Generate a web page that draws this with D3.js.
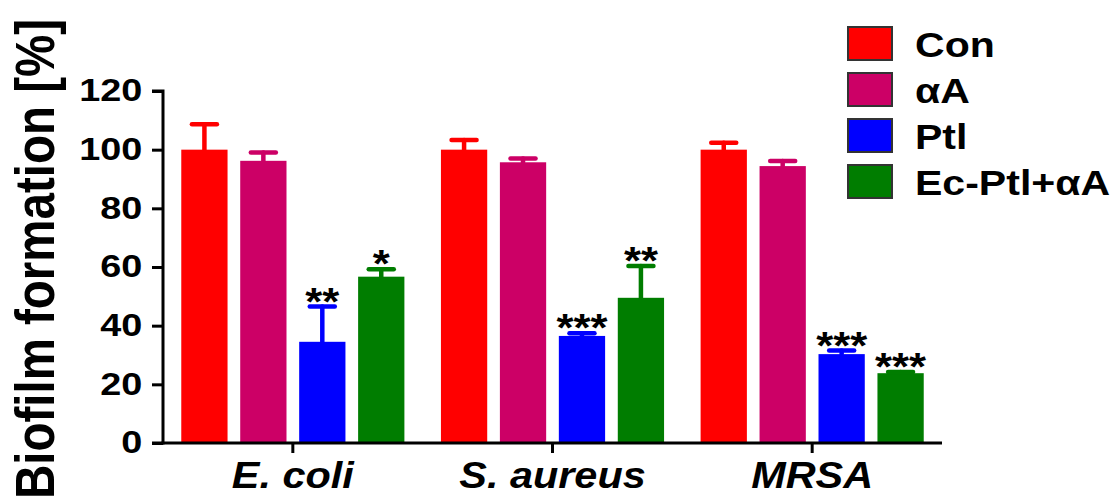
<!DOCTYPE html>
<html>
<head>
<meta charset="utf-8">
<script src="https://cdn.jsdelivr.net/npm/d3@7"></script>
<style>
  html, body { margin: 0; padding: 0; background: #ffffff; }
  svg { display: block; }
  text { font-family: "Liberation Sans", Arial, sans-serif; font-weight: bold; fill: #000; }
</style>
</head>
<body>
<svg id="chart" width="1118" height="503"></svg>
<script>
// ---- data ----
const categories = ["E. coli", "S. aureus", "MRSA"];
const seriesNames = ["Con", "αA", "Ptl", "Ec-Ptl+αA"];
const conValues = [100, 100, 100];
const aAValues = [96.2, 95.7, 94.4];
const ptlValues = [34.5, 36.5, 30.3];
const ecPtlValues = [56.7, 49.5, 23.8];
const conErrors = [8.7, 3.3, 2.4];
const aAErrors = [2.8, 1.3, 1.7];
const ptlErrors = [12.0, 0.9, 1.2];
const ecPtlErrors = [2.5, 10.8, 0.4];
const conSig = ["", "", ""];
const aASig = ["", "", ""];
const ptlSig = ["**", "***", "***"];
const ecPtlSig = ["*", "**", "***"];
const yTicks = [0, 20, 40, 60, 80, 100, 120];
const yLabel = "Biofilm formation [%]";
const colors = ["#ff0000", "#cc0066", "#0000ff", "#007d00"];

const seriesValues = [conValues, aAValues, ptlValues, ecPtlValues];
const seriesErrors = [conErrors, aAErrors, ptlErrors, ecPtlErrors];
const seriesSig = [conSig, aASig, ptlSig, ecPtlSig];

const rows = [];
categories.forEach((c, ci) => {
  seriesNames.forEach((s, si) => {
    rows.push({cat: c, series: s, si, value: seriesValues[si][ci], err: seriesErrors[si][ci], sig: seriesSig[si][ci]});
  });
});

// ---- layout ----
const svg = d3.select("#chart");
const SX = 1.15; // horizontal glyph stretch of the original figure
const plotLeft = 163, plotRight = 942, plotTop = 91, plotBottom = 443;

const x0 = d3.scaleBand().domain(categories).range([plotLeft, plotRight]).padding(0);
const x1 = d3.scaleBand().domain(seriesNames).range([0, x0.bandwidth()]).paddingInner(0.215).paddingOuter(0.31);
const y = d3.scaleLinear().domain([0, 120]).range([plotBottom, plotTop]);
const color = d3.scaleOrdinal().domain(seriesNames).range(colors);

// bars
const g = svg.append("g");
g.selectAll("rect.bar").data(rows).join("rect")
  .attr("class", "bar")
  .attr("x", d => x0(d.cat) + x1(d.series))
  .attr("y", d => y(d.value))
  .attr("width", x1.bandwidth())
  .attr("height", d => y(0) - y(d.value))
  .attr("fill", d => color(d.series));

// error bars
const eg = g.selectAll("g.err").data(rows).join("g").attr("class", "err")
  .attr("stroke", d => color(d.series)).attr("stroke-linecap", "round");
eg.append("line")
  .attr("x1", d => x0(d.cat) + x1(d.series) + x1.bandwidth() / 2)
  .attr("x2", d => x0(d.cat) + x1(d.series) + x1.bandwidth() / 2)
  .attr("y1", d => y(d.value))
  .attr("y2", d => y(d.value + d.err))
  .attr("stroke-width", 4.5);
eg.append("line")
  .attr("x1", d => x0(d.cat) + x1(d.series) + x1.bandwidth() / 2 - 12.5)
  .attr("x2", d => x0(d.cat) + x1(d.series) + x1.bandwidth() / 2 + 12.5)
  .attr("y1", d => y(d.value + d.err))
  .attr("y2", d => y(d.value + d.err))
  .attr("stroke-width", 4.5);

// significance stars
g.selectAll("g.sig").data(rows.filter(d => d.sig)).join("g").attr("class", "sig")
  .attr("transform", d => `translate(${x0(d.cat) + x1(d.series) + x1.bandwidth() / 2},${y(d.value + d.err) + 8}) scale(${SX},1)`)
  .append("text")
  .attr("text-anchor", "middle")
  .style("font-size", "38px")
  .text(d => d.sig);

// y axis
const yAxis = d3.axisLeft(y).tickValues(yTicks).tickSize(11).tickPadding(6).tickFormat(d3.format("d"));
const yg = svg.append("g").attr("transform", `translate(${plotLeft},0)`).call(yAxis);
yg.select(".domain").attr("stroke", "#000").attr("stroke-width", 3)
  .attr("d", `M-11,${plotTop}H0V${plotBottom}H-11`);
yg.selectAll(".tick line").attr("stroke", "#000").attr("stroke-width", 3);
yg.selectAll(".tick text")
  .attr("fill", "#000")
  .attr("font-size", null).attr("font-family", null)
  .style("font-size", "31px").style("font-weight", "bold")
  .style("font-family", '"Liberation Sans", Arial, sans-serif')
  .attr("transform", "scale(1.22,1)");

// x axis
const xAxis = d3.axisBottom(x0).tickSize(10).tickPadding(8).tickSizeOuter(0);
const xg = svg.append("g").attr("transform", `translate(0,${plotBottom})`).call(xAxis);
xg.select(".domain").attr("stroke", "#000").attr("stroke-width", 3)
  .attr("d", `M${plotLeft - 1.5},0H${plotRight}`);
xg.selectAll(".tick line").attr("stroke", "#000").attr("stroke-width", 3);
xg.selectAll(".tick text").remove();
xg.selectAll(".tick").append("g")
  .attr("transform", "translate(0,45) scale(1.12,1)")
  .append("text")
  .attr("text-anchor", "middle")
  .style("font-size", "37px").style("font-style", "italic")
  .text(d => d);

// y title
svg.append("g")
  .attr("transform", `translate(54,259) rotate(-90) scale(1,${SX})`)
  .append("text")
  .attr("text-anchor", "middle")
  .style("font-size", "47.5px")
  .text(yLabel);

// legend
const legend = svg.append("g").selectAll("g").data(seriesNames).join("g")
  .attr("transform", (d, i) => `translate(848,${27 + i * 46})`);
legend.append("rect")
  .attr("width", 44).attr("height", 33)
  .attr("fill", d => color(d))
  .attr("stroke", "#333").attr("stroke-width", 2);
legend.append("g")
  .attr("transform", "translate(67,30) scale(1.14,1)")
  .append("text")
  .style("font-size", "36px")
  .text(d => d);
</script>
</body>
</html>
